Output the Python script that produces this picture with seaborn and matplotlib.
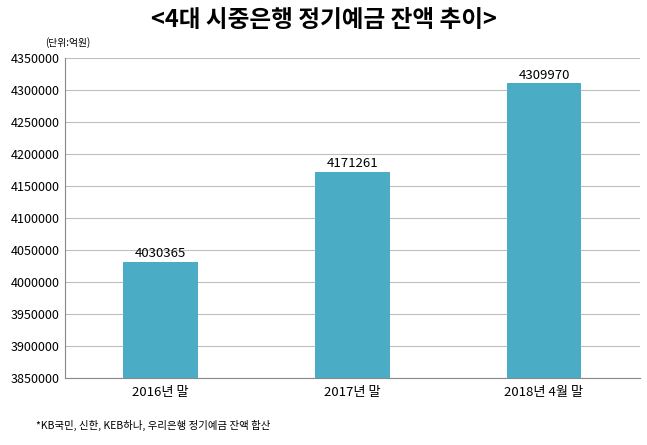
import matplotlib
matplotlib.use("Agg")
import matplotlib.pyplot as plt
from matplotlib import font_manager
import seaborn as sns
import pandas as pd

categories = ["2016년 말", "2017년 말", "2018년 4월 말"]
values = [4030365, 4171261, 4309970]
yticks = list(range(3850000, 4350001, 50000))

names = sorted({f.name for f in font_manager.fontManager.ttflist if "CJK" in f.name})
pref = [n for n in ["Noto Sans CJK KR", "Noto Sans CJK JP", "Noto Sans CJK SC", "Noto Sans CJK TC"] if n in names] + names
plt.rcParams["font.family"] = "sans-serif"
plt.rcParams["font.sans-serif"] = pref + ["DejaVu Sans"]

fig = plt.figure(figsize=(6.47, 4.45), dpi=100)
ax = fig.add_axes([0.100, 0.151, 0.889, 0.719])
df = pd.DataFrame({"cat": categories, "val": values})
sns.barplot(data=df, x="cat", y="val", color="#4BACC6", width=0.39, ax=ax, zorder=3, saturation=1)
ax.set_ylim(3850000, 4350000)
ax.set_yticks(yticks)
ax.set_yticklabels([str(t) for t in yticks], fontsize=9)
ax.tick_params(axis="x", labelsize=9.5, length=0, pad=6)
ax.tick_params(axis="y", length=0)
ax.yaxis.grid(True, color="#BFBFBF", linewidth=0.8, zorder=0)
ax.set_xlabel(""); ax.set_ylabel("")
for s in ["top", "right"]:
    ax.spines[s].set_visible(False)
ax.spines["left"].set_color("#888888")
ax.spines["bottom"].set_color("#888888")
for i, v in enumerate(values):
    ax.text(i, v + 3000, str(v), ha="center", va="bottom", fontsize=9.5)
fig.text(0.5, 0.955, "<4대 시중은행 정기예금 잔액 추이>", ha="center", va="center", fontsize=17, fontweight="bold")
fig.text(0.07, 0.905, "(단위:억원)", fontsize=7, va="center")
fig.text(0.055, 0.045, "*KB국민, 신한, KEB하나, 우리은행 정기예금 잔액 합산", fontsize=7.5, va="center")
fig.savefig("out.png", dpi=100)
